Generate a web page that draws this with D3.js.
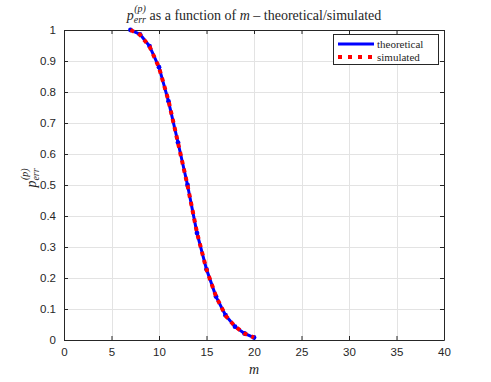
<!DOCTYPE html>
<html>
<head>
<meta charset="utf-8">
<script src="https://cdn.jsdelivr.net/npm/d3@7"></script>
<style>
  html, body { margin: 0; padding: 0; background: #fff; }
  svg { display: block; }
</style>
</head>
<body>
<svg id="chart" width="491" height="382"></svg>
<script>
// ---- data ----
const mTheory = [7, 8, 9, 10, 11, 12, 13, 14, 15, 16, 17, 18, 19, 20];
const pTheory = [1.0, 0.986, 0.948, 0.88, 0.77, 0.637, 0.50, 0.345, 0.228, 0.14, 0.08, 0.043, 0.021, 0.008];
const mSim = [7, 8, 9, 10, 11, 12, 13, 14, 15, 16, 17, 18, 19, 20];
const pSim = [1.0, 0.985, 0.947, 0.879, 0.772, 0.636, 0.499, 0.346, 0.227, 0.141, 0.079, 0.044, 0.021, 0.008];
const xTicks = [0, 5, 10, 15, 20, 25, 30, 35, 40];
const yTicks = [0, 0.1, 0.2, 0.3, 0.4, 0.5, 0.6, 0.7, 0.8, 0.9, 1];
const yTickLabels = ["0", "0.1", "0.2", "0.3", "0.4", "0.5", "0.6", "0.7", "0.8", "0.9", "1"];
const legendLabels = ["theoretical", "simulated"];

// ---- layout ----
const L = 64, R = 444, T = 30, B = 340;
const svg = d3.select("#chart");
const x = d3.scaleLinear().domain([0, 40]).range([L, R]);
const y = d3.scaleLinear().domain([0, 1]).range([B, T]);
const axisColor = "#262626";
const serif = "'Liberation Serif', 'DejaVu Serif', serif";
const sans = "'Liberation Sans', Arial, sans-serif";

// background
svg.append("rect").attr("x", L).attr("y", T).attr("width", R - L).attr("height", B - T).attr("fill", "#fff");

// grid
const grid = svg.append("g").attr("stroke", "#e3e3e3").attr("stroke-width", 1);
xTicks.forEach(t => grid.append("line").attr("x1", Math.round(x(t)) + 0.5).attr("x2", Math.round(x(t)) + 0.5).attr("y1", T).attr("y2", B));
yTicks.forEach(t => grid.append("line").attr("y1", Math.round(y(t)) + 0.5).attr("y2", Math.round(y(t)) + 0.5).attr("x1", L).attr("x2", R));

// axes (inward ticks), MATLAB box style
const tickLen = 4;
const xAxisB = d3.axisBottom(x).tickValues(xTicks).tickSizeInner(-tickLen).tickSizeOuter(0).tickPadding(8).tickFormat(d3.format("d"));
const xAxisT = d3.axisTop(x).tickValues(xTicks).tickSizeInner(-tickLen).tickSizeOuter(0).tickFormat("");
const yAxisL = d3.axisLeft(y).tickValues(yTicks).tickSizeInner(-tickLen).tickSizeOuter(0).tickPadding(8).tickFormat((d, i) => yTickLabels[i]);
const yAxisR = d3.axisRight(y).tickValues(yTicks).tickSizeInner(-tickLen).tickSizeOuter(0).tickFormat("");

function styleAxis(g) {
  g.selectAll("path").attr("stroke", axisColor).attr("stroke-width", 1);
  g.selectAll("line").attr("stroke", axisColor).attr("stroke-width", 1);
  g.selectAll("text").attr("fill", axisColor).style("font-family", sans).style("font-size", "11.5px");
}
svg.append("g").attr("transform", `translate(0,${B})`).call(xAxisB).call(styleAxis);
svg.append("g").attr("transform", `translate(0,${T})`).call(xAxisT).call(styleAxis);
svg.append("g").attr("transform", `translate(${L},0)`).call(yAxisL).call(styleAxis);
svg.append("g").attr("transform", `translate(${R},0)`).call(yAxisR).call(styleAxis);

// data lines
const theory = mTheory.map((m, i) => [m, pTheory[i]]);
const sim = mSim.map((m, i) => [m, pSim[i]]);
const line = d3.line().x(d => x(d[0])).y(d => y(d[1]));

svg.append("path").datum(theory).attr("d", line).attr("fill", "none").attr("stroke", "#0000ff").attr("stroke-width", 3);
svg.append("g").selectAll("circle").data(theory).join("circle")
  .attr("cx", d => x(d[0])).attr("cy", d => y(d[1])).attr("r", 2.4).attr("fill", "#0000ff");
svg.append("path").datum(sim).attr("d", line).attr("fill", "none").attr("stroke", "#ff0000").attr("stroke-width", 4)
  .attr("stroke-dasharray", "4,4.5");

// legend
const lg = svg.append("g");
lg.append("rect").attr("x", 333.5).attr("y", 34.5).attr("width", 105).attr("height", 30)
  .attr("fill", "#fff").attr("stroke", axisColor).attr("stroke-width", 1);
lg.append("line").attr("x1", 338).attr("x2", 374).attr("y1", 44).attr("y2", 44).attr("stroke", "#0000ff").attr("stroke-width", 3);
lg.append("line").attr("x1", 338).attr("x2", 374).attr("y1", 57).attr("y2", 57).attr("stroke", "#ff0000").attr("stroke-width", 4).attr("stroke-dasharray", "4,6");
legendLabels.forEach((lab, i) => {
  lg.append("text").attr("x", 377).attr("y", 44 + i * 13).attr("dy", "0.32em").text(lab)
    .style("font-family", serif).style("font-size", "11px").attr("fill", axisColor);
});

// title
const title = svg.append("g");
const tt = title.append("text").attr("y", 20).style("font-family", serif).style("font-size", "14px").attr("fill", axisColor);
tt.append("tspan").text("p").style("font-style", "italic");
tt.append("tspan").text("err").style("font-style", "italic").style("font-size", "10px").attr("dy", 3);
tt.append("tspan").text(" as a function of ").attr("dy", -3);
tt.append("tspan").text("m").style("font-style", "italic");
tt.append("tspan").text(" \u2013 theoretical/simulated");
const sup = title.append("text").attr("y", 11.5).style("font-family", serif).style("font-size", "10px").style("font-style", "italic").attr("fill", axisColor).text("(p)");
const tw = tt.node().getComputedTextLength();
const pw = tt.select("tspan").node().getComputedTextLength();
const tx0 = (L + R) / 2 - tw / 2;
tt.attr("x", tx0);
sup.attr("x", tx0 + pw + 0.5);

// x label
svg.append("text").attr("x", (L + R) / 2).attr("y", 374).attr("text-anchor", "middle")
  .style("font-family", serif).style("font-size", "14px").style("font-style", "italic").attr("fill", axisColor).text("m");

// y label (rotated)
const yl = svg.append("g").attr("transform", "translate(36,178) rotate(-90)");
const yt = yl.append("text").style("font-family", serif).style("font-size", "14px").attr("fill", axisColor);
yt.append("tspan").text("p").style("font-style", "italic");
yt.append("tspan").text("err").style("font-style", "italic").style("font-size", "10px").attr("dy", 3);
const yw = yt.node().getComputedTextLength();
const ypw = yt.select("tspan").node().getComputedTextLength();
yt.attr("x", -yw / 2);
yl.append("text").attr("x", -yw / 2 + ypw + 0.5).attr("y", -8).style("font-family", serif).style("font-size", "10px").style("font-style", "italic").attr("fill", axisColor).text("(p)");
</script>
</body>
</html>
